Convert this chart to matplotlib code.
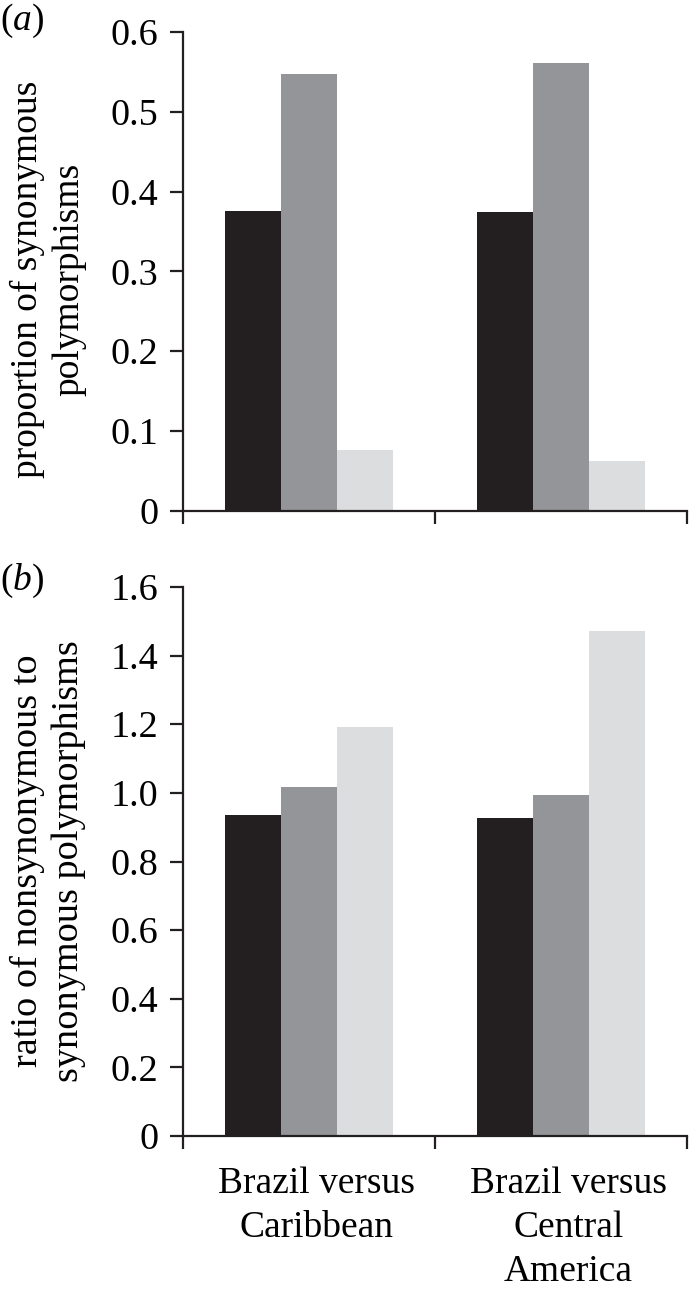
import matplotlib
matplotlib.use("Agg")
import matplotlib.pyplot as plt
import numpy as np

plt.rcParams['font.family'] = ['Liberation Serif', 'DejaVu Serif']
plt.rcParams['mathtext.fontset'] = 'custom'
plt.rcParams['mathtext.rm'] = 'Liberation Serif'
plt.rcParams['mathtext.it'] = 'Liberation Serif:italic'

# data
groups = ["Brazil versus\nCaribbean", "Brazil versus\nCentral\nAmerica"]
colors = ["#231f20", "#939598", "#dcdddf"]
prop_syn = [[0.376, 0.375],    # black
            [0.547, 0.561],    # dark grey
            [0.076, 0.062]]    # light grey
ratio_ns = [[0.935, 0.928],
            [1.018, 0.994],
            [1.192, 1.471]]
yticks_a = [0, 0.1, 0.2, 0.3, 0.4, 0.5, 0.6]
ytick_labels_a = ["0", "0.1", "0.2", "0.3", "0.4", "0.5", "0.6"]
yticks_b = [0, 0.2, 0.4, 0.6, 0.8, 1.0, 1.2, 1.4, 1.6]
ytick_labels_b = ["0", "0.2", "0.4", "0.6", "0.8", "1.0", "1.2", "1.4", "1.6"]

fig = plt.figure(figsize=(6.89, 12.92), dpi=100)
ax1 = fig.add_axes([0.2656, 0.6047, 0.7315, 0.3705])
ax2 = fig.add_axes([0.2656, 0.1207, 0.7315, 0.4250])

centers = np.array([0.5, 1.5])
w = 0.222


def style(ax, vals, yticks, ylabels, ymax):
    for i, v in enumerate(vals):
        ax.bar(centers + (i - 1) * w, v, width=w, color=colors[i], linewidth=0)
    ax.set_xlim(0, 2)
    ax.set_ylim(0, ymax)
    for s in ["top", "right"]:
        ax.spines[s].set_visible(False)
    for s in ["left", "bottom"]:
        ax.spines[s].set_linewidth(1.6)
        ax.spines[s].set_color("#231f20")
    ax.set_yticks(yticks)
    ax.set_yticklabels(ylabels, fontsize=27.5)
    ax.tick_params(axis="y", direction="out", length=9.5, width=1.6, pad=8,
                   color="#231f20")
    ax.set_xticks([0, 1, 2])
    ax.set_xticklabels([])
    ax.tick_params(axis="x", which="major", direction="out", length=9.5,
                   width=1.6, color="#231f20")


style(ax1, prop_syn, yticks_a, ytick_labels_a, 0.6)
style(ax2, ratio_ns, yticks_b, ytick_labels_b, 1.6)

ax2.set_xticks(centers + 0.03, minor=True)
ax2.set_xticklabels(groups, minor=True, fontsize=27, linespacing=1.36)
ax2.tick_params(axis="x", which="minor", length=0, pad=22)

fig.text(48 / 689, 1 - 279 / 1292, "proportion of synonymous\npolymorphisms",
         rotation=90, ha="center", va="center", fontsize=27, linespacing=1.25)
fig.text(48 / 689, 1 - 861 / 1292, "ratio of nonsynonymous to\nsynonymous polymorphisms",
         rotation=90, ha="center", va="center", fontsize=27.5, linespacing=1.25)

fig.text(0, 1 - 21 / 1292, r"($a$)", ha="left", va="center", fontsize=27)
fig.text(0, 1 - 581 / 1292, r"($b$)", ha="left", va="center", fontsize=27)

fig.savefig("out.png", dpi=100)
